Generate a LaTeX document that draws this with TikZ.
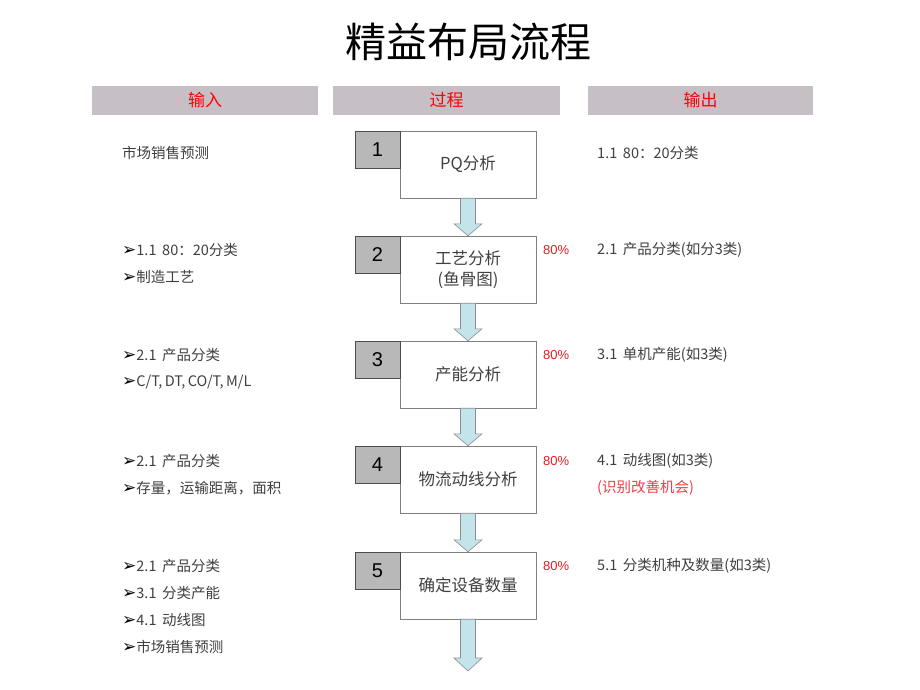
\documentclass[tikz,border=0pt]{standalone}
\usepackage{fontspec}
\usepackage{tikz}
\usetikzlibrary{calc}
\setsansfont{Liberation Sans}
\newfontfamily\cjk{Noto Sans CJK SC}
\newfontfamily\dv{DejaVu Sans}
\definecolor{barfill}{RGB}{198,192,198}
\definecolor{numfill}{RGB}{184,184,184}
\definecolor{flowfill}{RGB}{196,228,236}
\definecolor{txtgray}{RGB}{64,64,64}
\definecolor{pctred}{RGB}{236,28,36}
\newcommand{\itemmark}{{\dv\fontsize{17}{14}\selectfont\color{black}\char"27A2}}
\newcommand{\flowarrow}[2]{%
  \filldraw[flowarr] ($(#1.south)+(-7.5,0)$) -- ($(#2.north)+(-7.5,-12)$) -- ($(#2.north)+(-14,-12)$)
    -- (#2.north) -- ($(#2.north)+(14,-12)$) -- ($(#2.north)+(7.5,-12)$) -- ($(#1.south)+(7.5,0)$) -- cycle;}

\begin{document}
\begin{tikzpicture}[x=1pt,y=-1pt,
  bar/.style={fill=barfill,minimum width=226,minimum height=29,inner sep=0,text=red,font=\cjk\fontsize{17}{19}\selectfont},
  numbox/.style={draw=black!70,fill=numfill,minimum width=45,minimum height=37,inner sep=0,font=\sffamily\fontsize{20}{22}\selectfont},
  stepbox/.style={draw=black!50,fill=white,minimum width=136,minimum height=67,inner sep=0,align=center,text=txtgray,font=\cjk\fontsize{16.5}{21}\selectfont},
  item/.style={anchor=west,inner sep=0,text=txtgray,font=\cjk\fontsize{14.5}{16}\selectfont},
  pct/.style={anchor=west,inner sep=0,text=pctred,font=\sffamily\fontsize{13}{15}\selectfont},
  flowarr/.style={fill=flowfill,draw=black!45,line width=0.6pt}]
\useasboundingbox[fill=white] (0,0) rectangle (920,690);

\node[font=\cjk\fontsize{41}{44}\selectfont] (title) at (468,42) {精益布局流程};

\node[bar] (hin) at (205,100.5) {输入};
\node[bar,minimum width=227] (hproc) at (446.5,100.5) {过程};
\node[bar,minimum width=225] (hout) at (700.5,100.5) {输出};

\node[stepbox] (s1) at (468,164.5) {PQ分析};
\node[stepbox] (s2) at (468,269.5) {工艺分析\\(鱼骨图)};
\node[stepbox] (s3) at (468,374.5) {产能分析};
\node[stepbox] (s4) at (468,479.5) {物流动线分析};
\node[stepbox] (s5) at (468,585.5) {确定设备数量};
\node[numbox] (n1) at (377.5,149.5) {1};
\node[numbox] (n2) at (377.5,254.5) {2};
\node[numbox] (n3) at (377.5,359.5) {3};
\node[numbox] (n4) at (377.5,464.5) {4};
\node[numbox] (n5) at (377.5,570.5) {5};
\coordinate (end) at (468,671);

\flowarrow{s1}{s2}
\flowarrow{s2}{s3}
\flowarrow{s3}{s4}
\flowarrow{s4}{s5}
\filldraw[flowarr] ($(s5.south)+(-7.5,0)$) -- ($(end)+(-7.5,-13)$) -- ($(end)+(-14,-13)$)
  -- (end) -- ($(end)+(14,-13)$) -- ($(end)+(7.5,-13)$) -- ($(s5.south)+(7.5,0)$) -- cycle;

\node[item] (in1) at (122,153) {市场销售预测};
\node[item] (in2a) at (122,250) {\itemmark{}1.1 \,80：20分类};
\node[item] (in2b) at (122,277) {\itemmark{}制造工艺};
\node[item] (in3a) at (122,355) {\itemmark{}2.1 \,产品分类};
\node[item] (in3b) at (122,382) {\itemmark{}C/T,\,DT,\,CO/T,\,M/L};
\node[item] (in4a) at (122,461) {\itemmark{}2.1 \,产品分类};
\node[item] (in4b) at (122,488) {\itemmark{}存量，运输距离，面积};
\node[item] (in5a) at (122,566) {\itemmark{}2.1 \,产品分类};
\node[item] (in5b) at (122,593) {\itemmark{}3.1 \,分类产能};
\node[item] (in5c) at (122,620) {\itemmark{}4.1 \,动线图};
\node[item] (in5d) at (122,647) {\itemmark{}市场销售预测};

\node[pct] (p2) at (543,250) {80\%};
\node[pct] (p3) at (543,355) {80\%};
\node[pct] (p4) at (543,461) {80\%};
\node[pct] (p5) at (543,566) {80\%};

\node[item] (out1) at (597,153) {1.1 \,80：20分类};
\node[item] (out2) at (597,250) {2.1 \,产品分类(如分3类)};
\node[item] (out3) at (597,355) {3.1 \,单机产能(如3类)};
\node[item] (out4a) at (597,461) {4.1 \,动线图(如3类)};
\node[item,text=pctred!85] (out4b) at (597,488) {(识别改善机会)};
\node[item] (out5) at (597,566) {5.1 \,分类机种及数量(如3类)};
\end{tikzpicture}
\end{document}
